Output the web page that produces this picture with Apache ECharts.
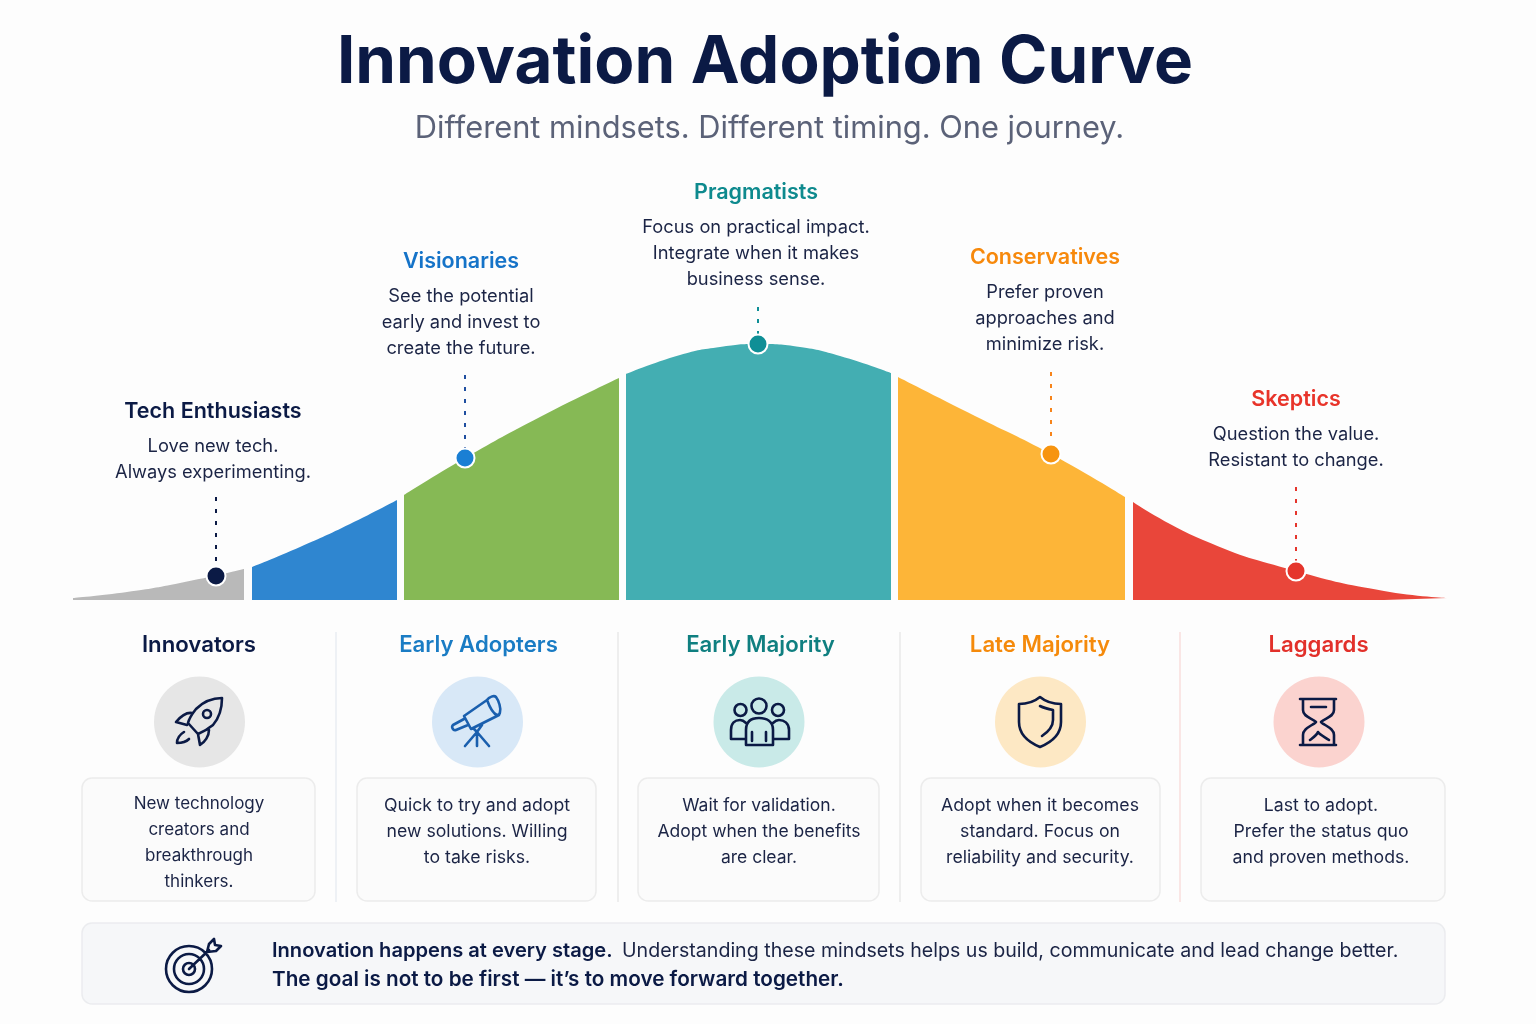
<!DOCTYPE html>
<html><head><meta charset="utf-8">
<style>html,body{margin:0;padding:0;background:#fdfdfd}#c{width:1536px;height:1024px}</style>
<script src="https://cdn.jsdelivr.net/npm/echarts@6/dist/echarts.min.js"></script>
</head><body><div id="c"></div>
<script>
// ---------- data: [position along adoption timeline, curve height]
const innovatorsCurve = [[73,2],[127,8],[180,17],[244,31]];
const earlyAdoptersCurve = [[252,33],[300,53],[350,76],[397,100]];
const earlyMajorityCurve = [[404,105],[465,142],[540,183],[619,222]];
const pragmatistCurve = [[626,226],[680,245],[720,253],[758,256],[800,253],[840,244],[891,227]];
const lateMajorityCurve = [[898,223],[975,184],[1051,146],[1125,103]];
const laggardsCurve = [[1133,98],[1203,60],[1296,29],[1384,9],[1447,2]];
const personaPoints = [[216,24],[465,142],[758,256],[1051,146],[1296,29]];
const leaderTops = [103,225,293,228,113];

const segmentNames = ['Innovators','Early Adopters','Early Majority','Late Majority','Laggards'];
const personaNames = ['Tech Enthusiasts','Visionaries','Pragmatists','Conservatives','Skeptics'];
const personaText = [
  ['Love new tech.','Always experimenting.'],
  ['See the potential','early and invest to','create the future.'],
  ['Focus on practical impact.','Integrate when it makes','business sense.'],
  ['Prefer proven','approaches and','minimize risk.'],
  ['Question the value.','Resistant to change.']
];
const cardText = [
  ['New technology','creators and','breakthrough','thinkers.'],
  ['Quick to try and adopt','new solutions. Willing','to take risks.'],
  ['Wait for validation.','Adopt when the benefits','are clear.'],
  ['Adopt when it becomes','standard. Focus on','reliability and security.'],
  ['Last to adopt.','Prefer the status quo','and proven methods.']
];
const titleText = 'Innovation Adoption Curve';
const subtitleText = 'Different mindsets. Different timing. One journey.';
const footerBold1 = 'Innovation happens at every stage.';
const footerRegular = 'Understanding these mindsets helps us build, communicate and lead change better.';
const footerBold2 = 'The goal is not to be first \u2014 it\u2019s to move forward together.';

// ---------- styling and layout
const FONT = 'Inter, "Noto Sans", sans-serif';
const NAVY = '#0b1a45', INK = '#1b2445';
const curveColors = ['#b9b9b9','#2f86d0','#86b955','#43aeb2','#fdb538','#e9463a'];
const curves = [innovatorsCurve,earlyAdoptersCurve,earlyMajorityCurve,pragmatistCurve,lateMajorityCurve,laggardsCurve];
const personaColors = [NAVY,'#1a7fd4','#0f8f96','#f7940f','#e5352c'];
const leaderColors = [NAVY,'#1f4fa0','#0f8f96','#f7841a','#e5352c'];
const personaTitleColors = [NAVY,'#1573c8','#0e8a8e','#f7890c','#e8342a'];
const segmentTitleColors = [NAVY,'#1a7cc4','#0f7f80','#f58a0b','#e2302a'];
const personaLayout = [[213,410],[461,260],[756,191],[1045,256],[1296,398]];
const segX = [199,478.500,760.500,1040,1318.500];
const circleX = [199.500,477.500,759,1040.500,1319];
const circleFill = ['#e6e6e6','#d8e8f7','#c9eae8','#fde8c4','#fbd3cf'];
const cards = [[82,315,199],[357,596,477],[638,879,759],[921,1160,1040],[1201,1445,1321]];
const cardFont = [17,17.700,17.500,17.700,17.700];
const dividers = [[336,'#e8edf2'],[618,'#e8e8e8'],[900,'#e8e8e8'],[1180,'#f8dedc']];

function circ(cx,cy,r){return `M${cx-r} ${cy}A${r} ${r} 0 1 0 ${cx+r} ${cy}A${r} ${r} 0 1 0 ${cx-r} ${cy}Z`;}
const icons = [
 {x:199,y:722,c:NAVY,p:'M23 -24C14 -24 4 -20 -3 -13C-7 -8 -10 -3 -11 1L-1 12C4 10 9 7 14 3C20 -4 23 -14 23 -24Z'+circ(8,-8,4)+'M-7 -9C-13 -10 -18 -6 -23 0L-12 3M-1 12L1 23C6 20 10 14 10 8M-15 10C-20 13 -22 17 -22 21C-18 21 -13 20 -10 17'},
 {x:477,y:722,c:'#1a5fae',p:'M10 -22L-13 -6L-6 7L22 -7M10 -22C12 -25 17 -27 19 -25C22 -21 24 -14 23 -10C23 -8 22 -7 20 -7C17 -8 13 -14 10 -22ZM-13 -3L-24 3C-26 5 -24 9 -21 8L-9 3M-4 6L0 10L5 3M0 10L-12 24M0 10V24M0 10L12 24'},
 {x:759,y:722,c:NAVY,p:circ(0,-16,7.500)+circ(-18.500,-12,6)+circ(19,-12,6)+'M-13 23V8C-13 -1 -7 -4 0 -4C7 -4 14 -1 14 8V23ZM-7 10V19M7 10V19M-13 17H-28V8C-28 1 -24 -2 -19 -2C-17 -2 -15 -1 -13 1M14 17H30V8C30 1 25 -2 20 -2C18 -2 16 -1 14 1'},
 {x:1040,y:722,c:NAVY,p:'M0 -25C6 -20 13 -18 21 -18V0C21 12 12 20 0 25C-12 20 -21 12 -21 0V-18C-13 -18 -6 -20 0 -25ZM0 -16C4 -14 8 -13 13 -12V-2C13 5 8 10 2 14'},
 {x:1319,y:722,c:NAVY,p:'M-19 -23H17M-19 23H17M-16 -23V-12C-16 -5 -7 -4 -3 0C-7 4 -16 6 -16 13V23M15 -23V-12C15 -5 6 -4 2 0C6 4 15 6 15 13V23M-8 -15H7M-9 18C-5 15 -2 13 -1 10C1 13 6 15 10 18'},
 {x:189,y:969,c:NAVY,p:circ(0,0,23)+circ(0,0,15)+circ(0,0,6)+'M0 0L20 -19M18 -17L20 -25L25 -30L26 -24L32 -23L27 -18Z'}
];

// ---------- decorative page elements
const gfx = [];
function txt(t,x,y,size,weight,fill,align){
  gfx.push({type:'text',z:5,x,y:y+1,style:{text:t,fontFamily:FONT,fontSize:size,fontWeight:weight,fill,
    align:align||'center',verticalAlign:'middle',textAlign:align||'center',textVerticalAlign:'middle'}});
}
dividers.forEach(d=>gfx.push({type:'line',z:1,shape:{x1:d[0],y1:632,x2:d[0],y2:902},style:{stroke:d[1],lineWidth:1.5}}));
cards.forEach(c=>gfx.push({type:'rect',z:1,shape:{x:c[0],y:778,width:c[1]-c[0],height:123,r:10},style:{fill:'#fbfbfb',stroke:'#ececec',lineWidth:1.5}}));
gfx.push({type:'rect',z:1,shape:{x:82,y:923,width:1363,height:81,r:10},style:{fill:'#f6f7f9',stroke:'#ebecef',lineWidth:1.5}});
circleX.forEach((x,i)=>gfx.push({type:'circle',z:1,shape:{cx:x,cy:722,r:45.500},style:{fill:circleFill[i]}}));
personaNames.forEach((n,i)=>{
  const [x,y]=personaLayout[i];
  txt(n,x,y+1,21.500,600,personaTitleColors[i]);
  personaText[i].forEach((l,j)=>txt(l,x,y+36+j*26,18.300,400,INK));
});
segmentNames.forEach((n,i)=>txt(n,segX[i],644.500,22.200,600,segmentTitleColors[i]));
cardText.forEach((ls,i)=>{
  const y0 = ls.length===4?803:805;
  ls.forEach((l,j)=>txt(l,cards[i][2],y0+j*26,cardFont[i],400,INK));
});
txt(footerBold1,272,950,20.100,600,NAVY,'left');
txt(footerRegular,622,950,19.600,400,INK,'left');
txt(footerBold2,272,979,20.700,600,NAVY,'left');

// ---------- series
const series = [];
curves.forEach((d,i)=>series.push({type:'line',name:'curve'+i,data:d,smooth:0.5,symbol:'none',silent:true,z:2,
  lineStyle:{width:0},areaStyle:{color:curveColors[i],opacity:1}}));
personaPoints.forEach((p,i)=>series.push({type:'line',name:'leader'+i,data:[[p[0],leaderTops[i]],[p[0],p[1]]],symbol:'none',silent:true,z:3,
  lineStyle:{color:leaderColors[i],width:2,type:[4,8]}}));
series.push({type:'scatter',name:'personas',data:personaPoints,symbolSize:19,z:4,silent:true,
  itemStyle:{color:p=>personaColors[p.dataIndex],borderColor:'#fff',borderWidth:2,opacity:1}});
series.push({type:'custom',name:'icons',coordinateSystem:'none',silent:true,z:6,data:icons.map((_,i)=>i),
  renderItem:(params,api)=>{const ic=icons[api.value(0)];
    return {type:'path',x:ic.x,y:ic.y,shape:{pathData:ic.p},style:{fill:'none',stroke:ic.c,lineWidth:2.600,lineJoin:'round',lineCap:'round'}};}});

const chart = echarts.init(document.getElementById('c'),null,{renderer:'canvas',width:1536,height:1024});
chart.setOption({
  animation:false,backgroundColor:'#fdfdfd',
  title:[
    {text:titleText,left:765,top:30.500,padding:0,textAlign:'center',textStyle:{fontFamily:FONT,fontSize:65.500,fontWeight:700,color:NAVY}},
    {text:subtitleText,left:769.500,top:113,padding:0,textAlign:'center',textStyle:{fontFamily:FONT,fontSize:30.800,fontWeight:400,color:'#5b6278'}}
  ],
  grid:{left:0,right:0,top:300,bottom:424},
  xAxis:{type:'value',min:0,max:1536,show:false},
  yAxis:{type:'value',min:0,max:300,show:false},
  graphic:gfx,
  series
});
</script></body></html>
